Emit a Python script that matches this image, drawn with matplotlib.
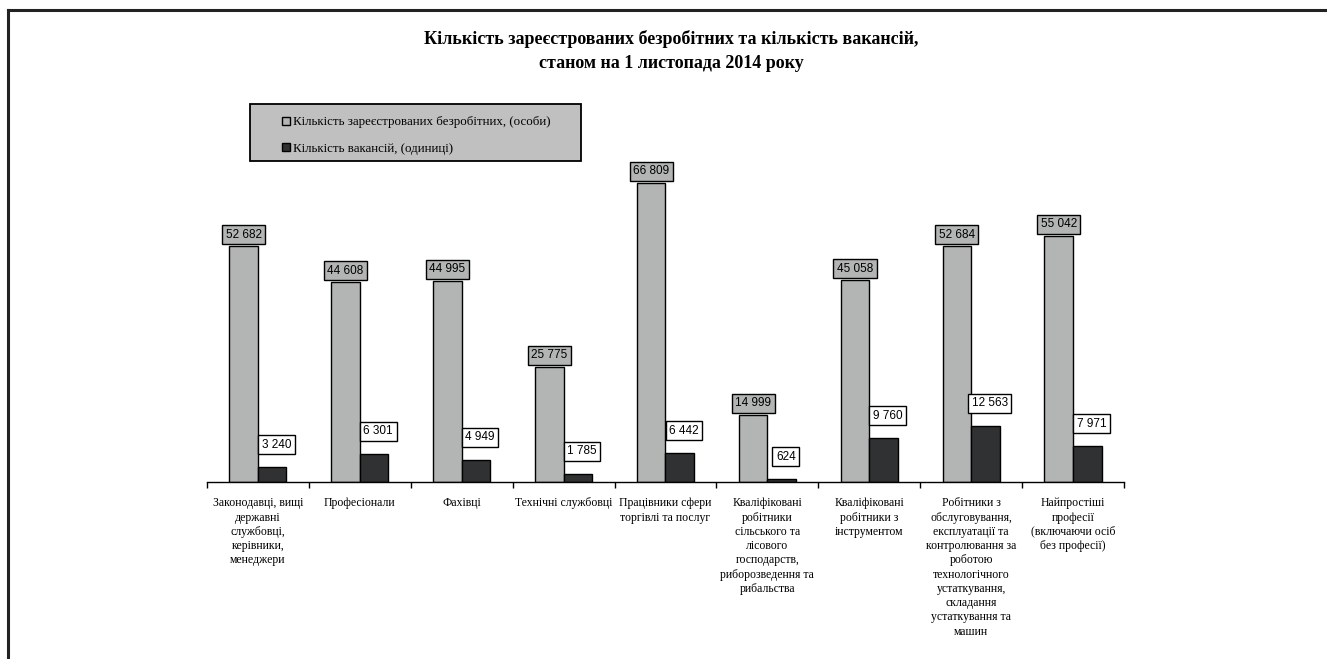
import matplotlib.pyplot as plt
import matplotlib.lines as mlines
import matplotlib.patches as mpatches
import numpy as np

categories = [
    "Законодавці, вищі\nдержавні\nслужбовці,\nкерівники,\nменеджери",
    "Професіонали",
    "Фахівці",
    "Технічні службовці",
    "Працівники сфери\nторгівлі та послуг",
    "Кваліфіковані\nробітники\nсільського та\nлісового\nгосподарств,\nриборозведення та\nрибальства",
    "Кваліфіковані\nробітники з\nінструментом",
    "Робітники з\nобслуговування,\nексплуатації та\nконтролювання за\nроботою\nтехнологічного\nустаткування,\nскладання\nустаткування та\nмашин",
    "Найпростіші\nпрофесії\n(включаючи осіб\nбез професії)",
]
unemployed = [52682, 44608, 44995, 25775, 66809, 14999, 45058, 52684, 55042]
vacancies = [3240, 6301, 4949, 1785, 6442, 624, 9760, 12563, 7971]

label_unemp = "Кількість зареєстрованих безробітних, (особи)"
label_vac = "Кількість вакансій, (одиниці)"
title = "Кількість зареєстрованих безробітних та кількість вакансій,\nстаном на 1 листопада 2014 року"

gray = "#b3b5b5"
dark = "#2f3133"
serif = "Liberation Serif"

def fmt(v):
    return f"{v:,}".replace(",", " ")

fig = plt.figure(figsize=(13.27, 6.59), dpi=100)
ax = fig.add_axes([0.156, 0.2686, 0.691, 0.5432])

x = np.arange(len(categories))
w = 0.28
b1 = ax.bar(x - w / 2, unemployed, w, color=gray, edgecolor="black", linewidth=1.0, label=label_unemp)
b2 = ax.bar(x + w / 2, vacancies, w, color=dark, edgecolor="black", linewidth=1.0, label=label_vac)

# value labels in boxes
for xi, v in zip(x, unemployed):
    ax.annotate(fmt(v), (xi - w / 2, v), xytext=(0, 4), textcoords="offset points",
                ha="center", va="bottom", fontsize=8.5, family="Liberation Sans",
                bbox=dict(boxstyle="square,pad=0.3", fc=gray, ec="black", lw=1.0))
for xi, v in zip(x, vacancies):
    ax.annotate(fmt(v), (xi + w / 2, v), xytext=(3, 12), textcoords="offset points",
                ha="center", va="bottom", fontsize=8.5, family="Liberation Sans",
                bbox=dict(boxstyle="square,pad=0.3", fc="white", ec="black", lw=1.0))

ax.set_xlim(-0.5, len(categories) - 0.5)
ax.set_ylim(0, 80000)
ax.set_yticks([])
for s in ["top", "right", "left"]:
    ax.spines[s].set_visible(False)
ax.spines["bottom"].set_linewidth(1.0)

ax.set_xticks(x)
ax.set_xticklabels(categories, family=serif, fontsize=8.5, linespacing=1.25)
ax.tick_params(axis="x", which="major", length=0, pad=11)
ax.set_xticks(np.arange(len(categories) + 1) - 0.5, minor=True)
ax.tick_params(axis="x", which="minor", length=4, width=1.0, direction="out")

fig.text(0.506, 1 - 51 / 659, title, ha="center", va="center", family=serif,
         fontweight="bold", fontsize=13, linespacing=1.55)

# legend box
fig.patches.append(mpatches.Rectangle((250 / 1327, 1 - 161 / 659), 331 / 1327, 57 / 659,
                                      transform=fig.transFigure, fc="#c0c0c0", ec="black",
                                      lw=1.3, zorder=0))
fig.legend(handles=[b1, b2], loc="upper left", bbox_to_anchor=(276 / 1327, 1 - 110 / 659),
           frameon=False, prop={"family": serif, "size": 9.3}, handlelength=0.6,
           handleheight=0.6, handletextpad=0.2, labelspacing=1.1, borderpad=0)

# outer frame
fig.lines.append(mlines.Line2D([8 / 1327, 1], [1 - 10 / 659, 1 - 10 / 659],
                               transform=fig.transFigure, color="#222222", lw=2.2))
fig.lines.append(mlines.Line2D([8 / 1327, 8 / 1327], [0, 1 - 10 / 659],
                               transform=fig.transFigure, color="#222222", lw=2.2))

fig.savefig("out.png", dpi=100)
